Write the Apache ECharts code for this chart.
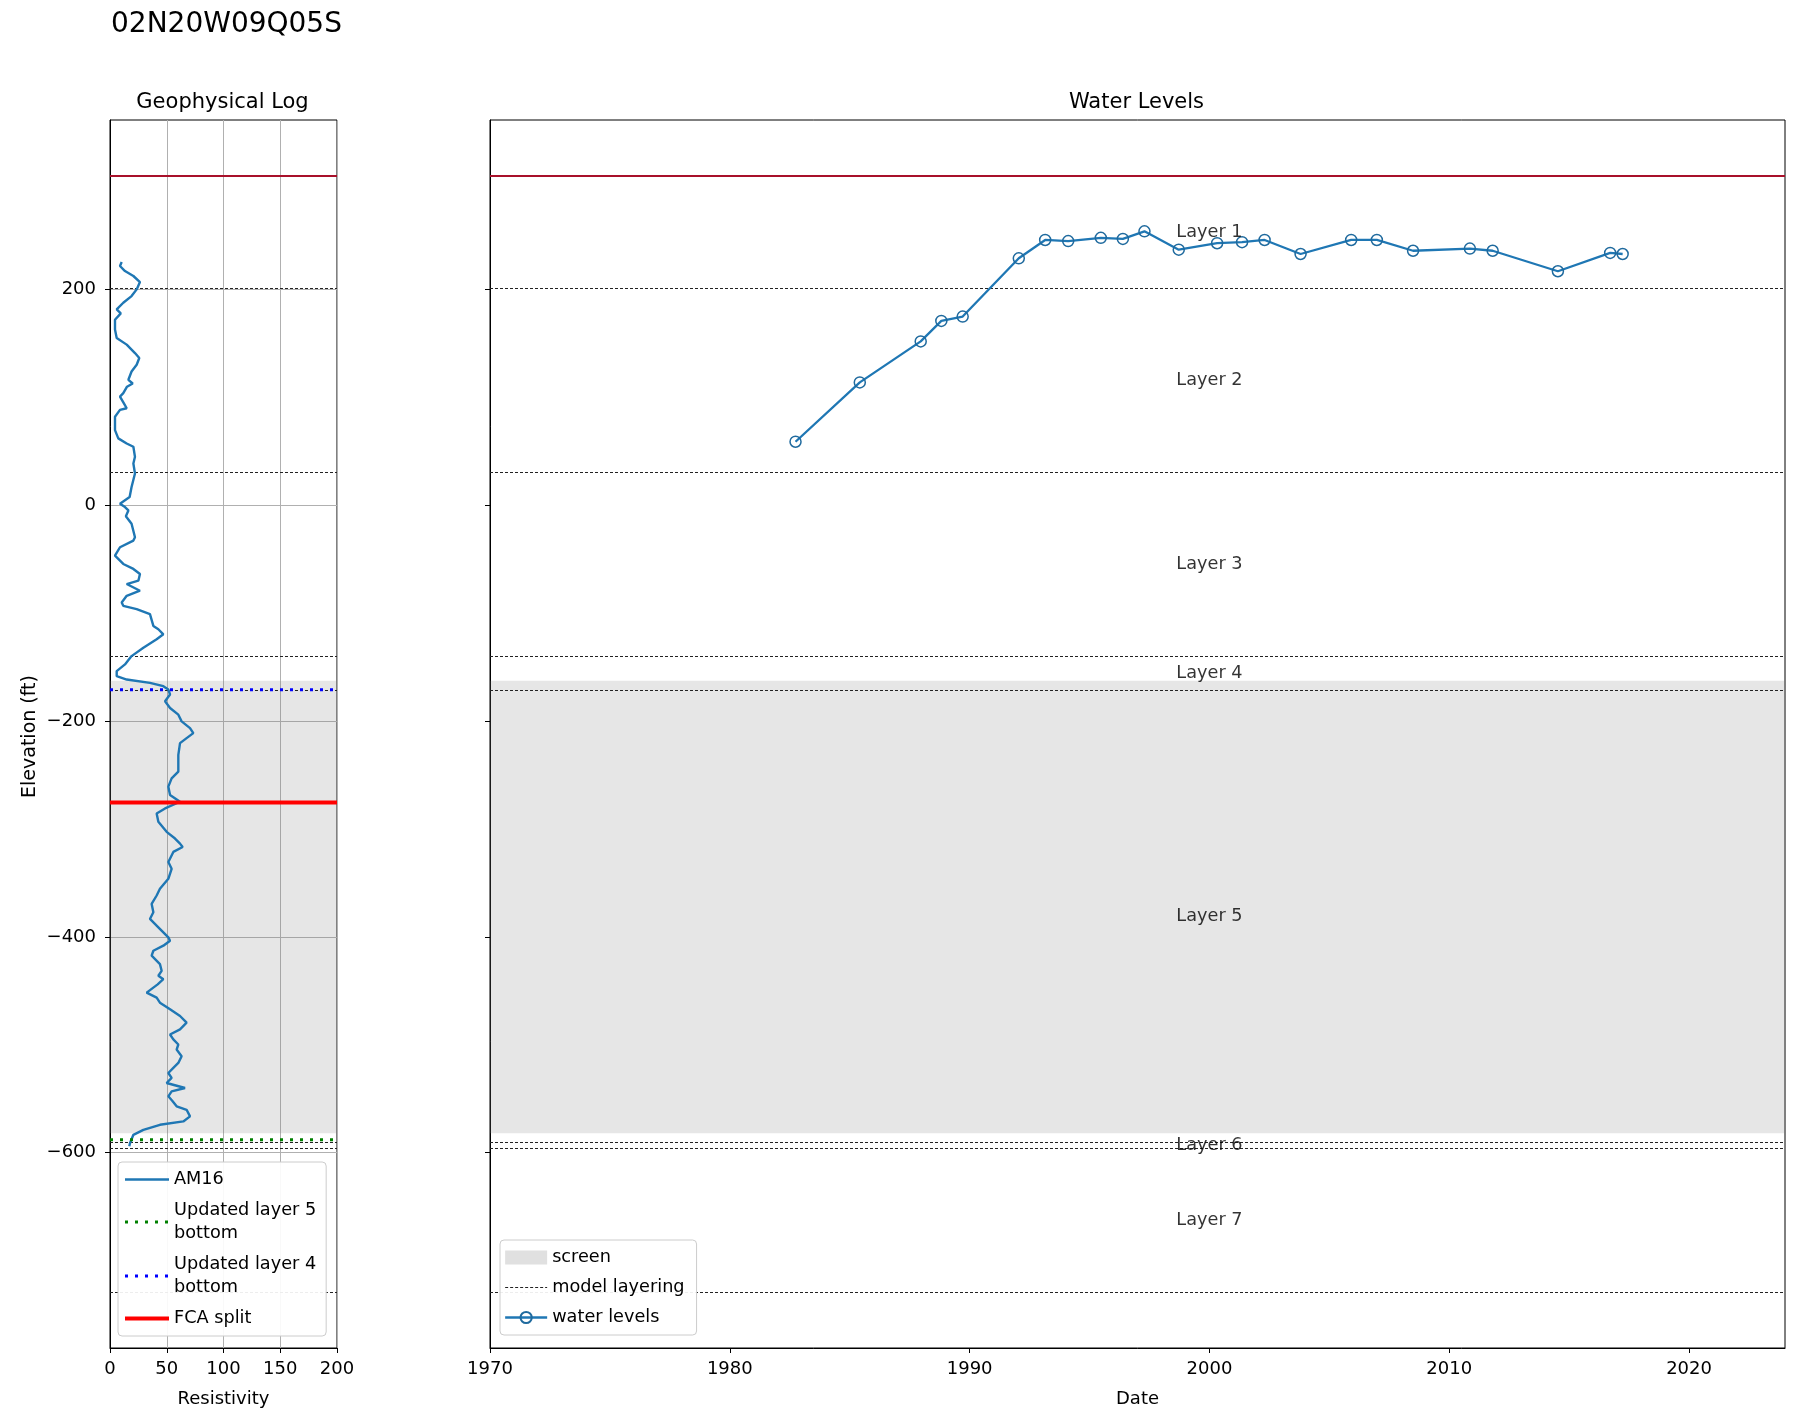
<!DOCTYPE html>
<html><head><meta charset="utf-8">
<script src="https://cdn.jsdelivr.net/npm/echarts@6/dist/echarts.min.js"></script>
<style>html,body{margin:0;padding:0;background:#fff}#c{width:1795px;height:1414px}</style>
</head><body><div id="c"></div>
<script>
// ---------------- data ----------------
const wellName = '02N20W09Q05S';
const logElev = [225.6,221.9,217.2,212.6,207,200.2,194,187.8,181.6,178,172,163,155.2,149,141.2,136.6,130.4,124.1,116.4,113,110,104,100.8,95,90,88.5,82.2,69.8,62.1,57.4,54.3,45,38.8,29.5,17,7.7,1.6,-1.6,-4.7,-10,-17,-29.5,-32.6,-38.8,-46.6,-54.3,-58.9,-63.6,-69.8,-72.9,-79.1,-83.8,-90,-93.1,-96.2,-100.8,-111.7,-114.8,-119.5,-124.1,-131.9,-139.7,-147.4,-153.6,-158.3,-161.4,-164.5,-167.6,-170.7,-175.3,-181.6,-187.8,-194,-200.2,-206.4,-211.1,-215.7,-220.4,-231.2,-246.7,-253,-260.7,-268.4,-274.7,-280.9,-285.6,-293.3,-302.6,-308.8,-313.5,-316.6,-321.2,-330.5,-336.8,-346.1,-355.4,-361.6,-369.4,-377.1,-383.3,-391.1,-400.4,-403.5,-408.1,-412.8,-417.4,-425.2,-431.4,-436,-439.2,-444,-451.6,-456.2,-460.9,-467.1,-473.3,-479.5,-485.7,-490.4,-495,-499.7,-504.4,-510.5,-516.8,-521.4,-526.1,-530.7,-535.4,-540,-543.1,-547.7,-552,-557,-560.2,-566.3,-571,-574.1,-578.8,-583.4,-591.2,-594];
const logRes  = [10.3,8.8,13.2,20.6,26.4,23.5,19,11.7,5.9,9.5,4.4,4.4,5.9,14.7,22,25.8,23.5,19,16.2,20,15,11.7,8.8,12,14.7,8.8,4.4,4.4,7.3,14.7,20.6,22,20.6,22,19,17.3,8.8,13.2,16.2,14,19,22,20.6,8.8,4.4,11.7,20.6,26.4,25,14.7,26.4,14.7,10.3,11.7,23.5,35.2,38.2,42.6,47,41.1,29.4,19,13.2,5.9,5.9,14.7,35.2,47,51.4,52.9,48.5,52.9,60.2,63.1,70.5,73.4,67.5,61.7,60.2,60.2,54.3,51.4,52.9,61.7,48.5,41.1,42.6,49.9,57.3,61.7,64,55.8,51.4,54.3,51.4,44,41.1,36.7,38.2,35.2,42.6,51.4,52.9,47,38.2,36.7,44,45.5,42.6,47,42,32.3,41.1,44,52.9,61.7,67.5,61.7,52.9,55.8,60.2,58.7,63.1,60.2,55.8,51.4,54.3,49.9,66.1,54.3,51.4,55,58.7,67.5,70.5,64.6,44,29.4,20.6,17.6,17];

const wlYear = [1982.74,1985.42,1987.96,1988.82,1989.71,1992.05,1993.15,1994.11,1995.47,1996.39,1997.29,1998.72,2000.32,2001.36,2002.30,2003.80,2005.91,2006.98,2008.49,2010.86,2011.81,2014.53,2016.71,2017.23];
const wlElev = [59,114,152,171,175,229,246,245,248,247,254,237,243,244,246,233,246,246,236,238,236,217,234,233];

const layerNames = ['Layer 1','Layer 2','Layer 3','Layer 4','Layer 5','Layer 6','Layer 7'];
const layerBoundaries = [305.6, 201, 31, -140, -171, -590, -596, -729.5];
const groundSurface = 305.6;
const screenTop = -162.5;
const screenBottom = -582;
const updatedLayer4Bottom = -171;
const updatedLayer5Bottom = -588;
const fcaSplit = -275.5;

const elevTicks = [-600, -400, -200, 0, 200];
const resTicks = [0, 50, 100, 150, 200];
const yearTicks = [1970, 1980, 1990, 2000, 2010, 2020];

// ---------------- chart ----------------
const FONT = 'DejaVu Sans';
const yMin = -781, yMax = 357.2;
const resMin = 0, resMax = 200;
const yearMin = 1970, yearMax = 2024;
const minus = v => String(v).replace('-', '\u2212');
const txt = (size) => ({ fontFamily: FONT, fontSize: size, color: '#000' });

const layerMid = layerNames.map((n, i) => ({ name: n, value: [2000, (layerBoundaries[i] + layerBoundaries[i + 1]) / 2] }));

function screenSeries(idx) {
  return {
    name: 'screen', type: 'line', xAxisIndex: idx, yAxisIndex: idx, data: [],
    color: '#e0e0e0', silent: true,
    markArea: { silent: true, itemStyle: { color: 'rgba(128,128,128,0.2)' },
      data: [[{ yAxis: screenTop }, { yAxis: screenBottom }]] }
  };
}
function layeringSeries(idx) {
  return {
    name: 'model layering', type: 'line', xAxisIndex: idx, yAxisIndex: idx, data: [],
    color: '#222', symbol: 'none', silent: true,
    lineStyle: { color: '#222', width: 1, type: [3, 2] },
    markLine: { silent: true, z: 3, symbol: ['none', 'none'], label: { show: false },
      lineStyle: { color: '#222', width: 1, type: [3, 2] },
      data: layerBoundaries.slice(1).map(v => ({ yAxis: v })) }
  };
}
function groundSeries(idx) {
  return {
    name: 'ground', type: 'line', xAxisIndex: idx, yAxisIndex: idx, data: [], silent: true,
    markLine: { silent: true, z: 3, symbol: ['none', 'none'], label: { show: false },
      lineStyle: { color: '#a8102a', width: 2.2, type: 'solid' },
      data: [{ yAxis: groundSurface }] }
  };
}
function hLine(name, y, color, width, type) {
  return {
    name, type: 'line', xAxisIndex: 0, yAxisIndex: 0, symbol: 'none', color,
    lineStyle: { color, width, type, cap: 'butt' }, z: 6,
    data: [[resMin, y], [resMax, y]]
  };
}

const axisLine = { show: true, onZero: false, lineStyle: { color: '#000', width: 1 } };
const axisTick = { show: true, length: 5, lineStyle: { color: '#000' } };
const GRID_TOP = 120, GRID_H = 1228;

const option = {
  animation: false,
  backgroundColor: '#fff',
  title: [
    { text: wellName, left: 106, top: 6, textStyle: { ...txt(28), fontWeight: 'normal' } },
    { text: 'Geophysical Log', left: 217.5, top: 87, textAlign: 'center', textStyle: { ...txt(21), fontWeight: 'normal' } },
    { text: 'Water Levels', left: 1131.5, top: 87, textAlign: 'center', textStyle: { ...txt(21), fontWeight: 'normal' } }
  ],
  grid: [
    { left: 110, top: GRID_TOP, width: 227, height: GRID_H, show: true, borderColor: '#000', borderWidth: 1, backgroundColor: 'transparent' },
    { left: 490, top: GRID_TOP, width: 1295, height: GRID_H, show: true, borderColor: '#000', borderWidth: 1, backgroundColor: 'transparent' }
  ],
  xAxis: [
    { type: 'value', gridIndex: 0, min: resMin, max: resMax, interval: 50,
      name: 'Resistivity', nameLocation: 'middle', nameGap: 42, nameTextStyle: txt(18),
      axisLine, axisTick,
      axisLabel: { ...txt(18), margin: 12 },
      splitLine: { show: true, lineStyle: { color: '#b0b0b0', width: 1 } } },
    { type: 'value', gridIndex: 1, min: yearMin, max: yearMax,
      name: 'Date', nameLocation: 'middle', nameGap: 42, nameTextStyle: txt(18),
      axisLine,
      axisTick: { ...axisTick, customValues: yearTicks },
      axisLabel: { ...txt(18), margin: 12, customValues: yearTicks, formatter: v => String(v) },
      splitLine: { show: false } }
  ],
  yAxis: [
    { type: 'value', gridIndex: 0, min: yMin, max: yMax,
      name: 'Elevation (ft)', nameLocation: 'middle', nameGap: 70, nameRotate: 90,
      nameTextStyle: { ...txt(19), padding: [0, 5, 0, 0] },
      axisLine,
      axisTick: { ...axisTick, customValues: elevTicks },
      axisLabel: { ...txt(18), margin: 14, customValues: elevTicks, formatter: minus },
      splitLine: { show: true, lineStyle: { color: '#b0b0b0', width: 1 } } },
    { type: 'value', gridIndex: 1, min: yMin, max: yMax,
      axisLine,
      axisTick: { ...axisTick, customValues: elevTicks },
      axisLabel: { show: false, customValues: elevTicks },
      splitLine: { show: false } }
  ],
  legend: [
    { data: [{ name: 'AM16', lineStyle: { width: 2.5 } },
             { name: 'Updated layer 5 bottom', lineStyle: { width: 3 } },
             { name: 'Updated layer 4 bottom', lineStyle: { width: 3 } },
             { name: 'FCA split', lineStyle: { width: 4 } }],
      z: 20, zlevel: 0,
      orient: 'vertical', left: 118, top: 1162, itemWidth: 44, itemHeight: 12, itemGap: 8,
      padding: [6, 10, 6, 5], backgroundColor: 'rgba(255,255,255,0.92)', borderColor: '#cccccc',
      borderWidth: 1, borderRadius: 4, selectedMode: false,
      itemStyle: { opacity: 0 },
      formatter: n => n.replace(' bottom', '\nbottom'),
      textStyle: { ...txt(17.7), lineHeight: 23 } },
    { data: [{ name: 'screen', icon: 'rect' },
             { name: 'model layering', itemStyle: { opacity: 0 }, lineStyle: { width: 1 } },
             { name: 'water levels', lineStyle: { width: 2.3 } }],
      z: 20, zlevel: 0,
      orient: 'vertical', left: 500, top: 1240, itemWidth: 42, itemHeight: 14, itemGap: 9,
      padding: [7, 12, 7, 4], backgroundColor: 'rgba(255,255,255,0.92)', borderColor: '#cccccc',
      borderWidth: 1, borderRadius: 4, selectedMode: false,
      textStyle: { ...txt(17.7), lineHeight: 21 } }
  ],
  series: [
    screenSeries(0),
    layeringSeries(0),
    groundSeries(0),
    { name: 'AM16', type: 'line', xAxisIndex: 0, yAxisIndex: 0, symbol: 'none', color: '#1f77b4',
      lineStyle: { color: '#1f77b4', width: 2.4 }, z: 5,
      data: logRes.map((r, i) => [r, logElev[i]]) },
    hLine('Updated layer 5 bottom', updatedLayer5Bottom, '#008000', 3, [3, 7]),
    hLine('Updated layer 4 bottom', updatedLayer4Bottom, '#0000ff', 3, [3, 7]),
    hLine('FCA split', fcaSplit, '#ff0000', 4, 'solid'),

    screenSeries(1),
    layeringSeries(1),
    groundSeries(1),
    { name: 'water levels', type: 'line', xAxisIndex: 1, yAxisIndex: 1, color: '#1f77b4',
      symbol: 'circle', symbolSize: 11, showSymbol: true,
      itemStyle: { color: 'rgba(0,0,0,0)', borderColor: '#1f6a9e', borderWidth: 1.5 },
      lineStyle: { color: '#1f77b4', width: 2.3 }, z: 5,
      data: wlYear.map((y, i) => [y, wlElev[i]]) },
    { name: 'layer labels', type: 'scatter', xAxisIndex: 1, yAxisIndex: 1, symbolSize: 0, silent: true,
      itemStyle: { color: 'rgba(0,0,0,0)' }, z: 7,
      label: { show: true, position: 'inside', formatter: '{b}', ...txt(17.7) },
      data: layerMid }
  ]
};

const chart = echarts.init(document.getElementById('c'));
chart.setOption(option);
</script>
</body></html>
